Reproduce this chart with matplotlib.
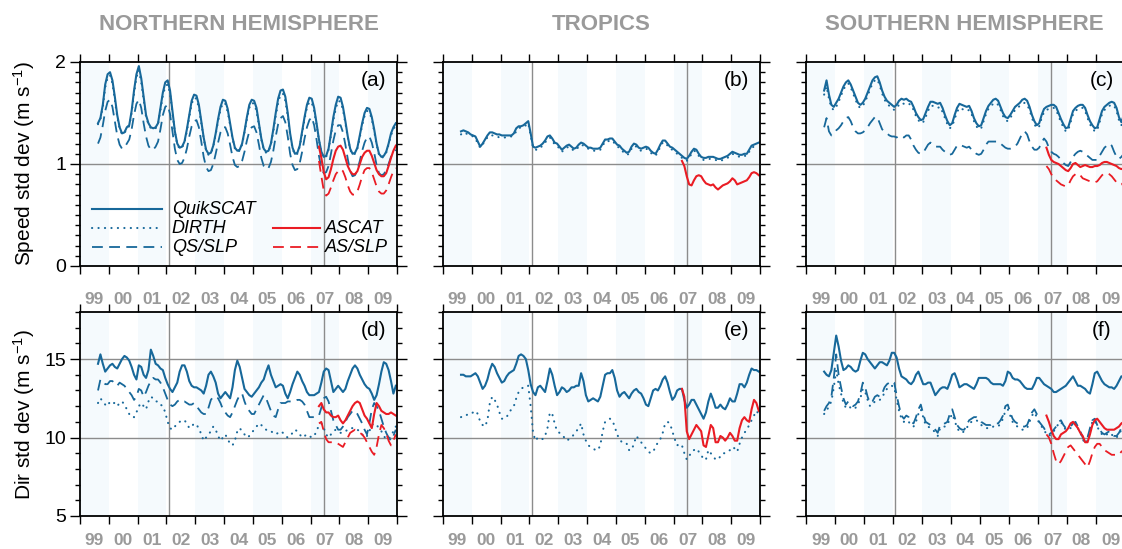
"""Wind speed / direction std dev time series, QuikSCAT vs ASCAT, 3 regions."""

import matplotlib

matplotlib.use("Agg")
import matplotlib.pyplot as plt
import numpy as np
from matplotlib.ticker import MultipleLocator

plt.rcParams["font.family"] = ["Liberation Sans", "DejaVu Sans"]
plt.rcParams["mathtext.fontset"] = "custom"
plt.rcParams["mathtext.rm"] = "Liberation Sans"
plt.rcParams["mathtext.it"] = "Liberation Sans:italic"
plt.rcParams["mathtext.default"] = "regular"

# ---------------------------------------------------------------- data
REGIONS = ["NORTHERN HEMISPHERE", "TROPICS", "SOUTHERN HEMISPHERE"]
PANEL_TAGS = ["(a)", "(b)", "(c)", "(d)", "(e)", "(f)"]
YEAR_LABELS = ["99", "00", "01", "02", "03", "04", "05", "06", "07", "08", "09"]
QS_START = (1999, 8)   # first monthly value Aug 1999, 125 months
AS_START = (2007, 4)   # first monthly value Apr 2007, 33 months
BREAKS = [2002.08, 2007.46]

# speed std dev, northern hemisphere
speed_nh_qs = [
    1.40, 1.45, 1.58, 1.78, 1.88,
    1.90, 1.82, 1.66, 1.48, 1.36, 1.30, 1.31, 1.36, 1.38, 1.52, 1.72, 1.88,
    1.96, 1.84, 1.66, 1.48, 1.40, 1.36, 1.35, 1.36, 1.40, 1.55, 1.70, 1.80,
    1.82, 1.72, 1.52, 1.32, 1.20, 1.16, 1.17, 1.22, 1.34, 1.48, 1.62, 1.68,
    1.67, 1.58, 1.42, 1.26, 1.14, 1.10, 1.11, 1.18, 1.30, 1.44, 1.56, 1.63,
    1.62, 1.54, 1.40, 1.26, 1.16, 1.13, 1.14, 1.20, 1.32, 1.46, 1.58, 1.63,
    1.62, 1.55, 1.40, 1.25, 1.15, 1.12, 1.13, 1.20, 1.34, 1.50, 1.64, 1.72,
    1.73, 1.66, 1.50, 1.30, 1.16, 1.10, 1.11, 1.18, 1.32, 1.46, 1.58, 1.65,
    1.64, 1.55, 1.40, 1.24, 1.12, 1.07, 1.08, 1.15, 1.30, 1.46, 1.58, 1.66,
    1.65, 1.56, 1.42, 1.27, 1.15, 1.10, 1.11, 1.16, 1.28, 1.40, 1.50, 1.55,
    1.54, 1.46, 1.34, 1.20, 1.10, 1.07, 1.08, 1.12, 1.20, 1.30, 1.36, 1.40,
]
speed_nh_dirth = [
    1.39, 1.44, 1.56, 1.75, 1.85,
    1.87, 1.79, 1.63, 1.46, 1.35, 1.29, 1.30, 1.35, 1.37, 1.50, 1.69, 1.85,
    1.92, 1.80, 1.63, 1.46, 1.39, 1.35, 1.34, 1.35, 1.39, 1.53, 1.67, 1.76,
    1.78, 1.69, 1.50, 1.31, 1.19, 1.15, 1.16, 1.21, 1.32, 1.46, 1.59, 1.65,
    1.64, 1.55, 1.40, 1.25, 1.13, 1.09, 1.10, 1.17, 1.29, 1.42, 1.53, 1.60,
    1.59, 1.51, 1.38, 1.25, 1.15, 1.12, 1.13, 1.19, 1.31, 1.44, 1.55, 1.60,
    1.59, 1.52, 1.38, 1.24, 1.14, 1.11, 1.12, 1.19, 1.32, 1.47, 1.60, 1.68,
    1.69, 1.62, 1.47, 1.28, 1.15, 1.09, 1.10, 1.17, 1.30, 1.44, 1.55, 1.61,
    1.60, 1.52, 1.38, 1.23, 1.11, 1.06, 1.07, 1.14, 1.28, 1.43, 1.54, 1.62,
    1.61, 1.53, 1.40, 1.26, 1.14, 1.09, 1.10, 1.15, 1.26, 1.38, 1.47, 1.52,
    1.51, 1.44, 1.32, 1.19, 1.09, 1.06, 1.07, 1.11, 1.19, 1.28, 1.34, 1.38,
]
speed_nh_qsslp = [
    1.20, 1.26, 1.38, 1.52, 1.61,
    1.63, 1.56, 1.42, 1.28, 1.19, 1.15, 1.16, 1.20, 1.24, 1.34, 1.48, 1.59,
    1.63, 1.55, 1.40, 1.27, 1.18, 1.14, 1.14, 1.17, 1.22, 1.34, 1.48, 1.56,
    1.58, 1.49, 1.32, 1.15, 1.04, 1.00, 1.01, 1.06, 1.15, 1.27, 1.37, 1.42,
    1.43, 1.36, 1.22, 1.07, 0.97, 0.93, 0.94, 1.00, 1.10, 1.21, 1.31, 1.36,
    1.36, 1.30, 1.19, 1.07, 0.99, 0.97, 0.98, 1.03, 1.12, 1.23, 1.32, 1.36,
    1.37, 1.31, 1.19, 1.06, 0.98, 0.95, 0.96, 1.02, 1.13, 1.27, 1.39, 1.45,
    1.47, 1.41, 1.27, 1.10, 0.99, 0.94, 0.95, 1.01, 1.12, 1.25, 1.36, 1.43,
    1.46, 1.38, 1.24, 1.08, 0.96, 0.91, 0.92, 0.98, 1.10, 1.23, 1.33, 1.38,
    1.38, 1.31, 1.19, 1.05, 0.93, 0.88, 0.89, 0.94, 1.03, 1.13, 1.21, 1.26,
    1.27, 1.21, 1.11, 0.99, 0.91, 0.89, 0.90, 0.94, 1.00, 1.07, 1.11, 1.14,
]
speed_nh_ascat = [
    1.17, 1.06, 0.92, 0.85, 0.87, 0.95, 1.05, 1.13, 1.17,
    1.18, 1.14, 1.06, 0.98, 0.93, 0.90, 0.90, 0.93, 1.00, 1.07, 1.11, 1.13,
    1.13, 1.08, 1.01, 0.94, 0.90, 0.88, 0.88, 0.91, 0.98, 1.06, 1.13, 1.18,
]
speed_nh_asslp = [
    1.03, 0.88, 0.74, 0.69, 0.71, 0.77, 0.84, 0.90, 0.93,
    0.95, 0.93, 0.87, 0.79, 0.73, 0.70, 0.70, 0.73, 0.80, 0.88, 0.94, 0.96,
    0.96, 0.92, 0.85, 0.78, 0.73, 0.71, 0.71, 0.74, 0.80, 0.87, 0.93, 0.96,
]

# speed std dev, tropics
speed_tr_qs = [
    1.32, 1.33, 1.32, 1.31, 1.29,
    1.28, 1.27, 1.22, 1.17, 1.20, 1.24, 1.28, 1.31, 1.31, 1.30, 1.29, 1.29,
    1.28, 1.28, 1.28, 1.28, 1.28, 1.30, 1.35, 1.37, 1.37, 1.38, 1.40, 1.42,
    1.30, 1.17, 1.16, 1.17, 1.18, 1.20, 1.23, 1.27, 1.28, 1.25, 1.21, 1.20,
    1.17, 1.14, 1.16, 1.18, 1.19, 1.17, 1.15, 1.16, 1.19, 1.21, 1.20, 1.18,
    1.16, 1.16, 1.15, 1.15, 1.15, 1.16, 1.20, 1.24, 1.24, 1.25, 1.25, 1.22,
    1.19, 1.18, 1.15, 1.13, 1.11, 1.12, 1.17, 1.20, 1.19, 1.16, 1.15, 1.16,
    1.17, 1.16, 1.13, 1.11, 1.10, 1.14, 1.19, 1.23, 1.23, 1.20, 1.17, 1.16,
    1.14, 1.12, 1.10, 1.08, 1.06, 1.05, 1.08, 1.12, 1.15, 1.14, 1.10, 1.07,
    1.06, 1.06, 1.07, 1.07, 1.07, 1.06, 1.05, 1.05, 1.06, 1.07, 1.08, 1.10,
    1.12, 1.11, 1.10, 1.09, 1.09, 1.10, 1.10, 1.14, 1.18, 1.19, 1.20, 1.21,
]
speed_tr_dirth = [
    1.29, 1.31, 1.30, 1.29, 1.28,
    1.27, 1.25, 1.20, 1.16, 1.19, 1.23, 1.26, 1.28, 1.28, 1.28, 1.27, 1.26,
    1.26, 1.26, 1.26, 1.27, 1.27, 1.28, 1.32, 1.35, 1.36, 1.36, 1.38, 1.40,
    1.28, 1.16, 1.14, 1.14, 1.16, 1.18, 1.21, 1.24, 1.26, 1.23, 1.19, 1.18,
    1.15, 1.12, 1.14, 1.16, 1.17, 1.15, 1.13, 1.14, 1.17, 1.19, 1.18, 1.16,
    1.15, 1.14, 1.13, 1.13, 1.13, 1.14, 1.18, 1.22, 1.22, 1.23, 1.23, 1.20,
    1.17, 1.16, 1.13, 1.11, 1.09, 1.10, 1.15, 1.18, 1.17, 1.14, 1.13, 1.14,
    1.15, 1.14, 1.11, 1.09, 1.08, 1.12, 1.17, 1.21, 1.21, 1.18, 1.15, 1.14,
    1.12, 1.10, 1.08, 1.06, 1.04, 1.03, 1.06, 1.10, 1.13, 1.12, 1.08, 1.05,
    1.04, 1.04, 1.05, 1.05, 1.05, 1.04, 1.03, 1.03, 1.04, 1.05, 1.06, 1.08,
    1.10, 1.09, 1.08, 1.07, 1.07, 1.08, 1.08, 1.12, 1.16, 1.17, 1.18, 1.19,
]
speed_tr_ascat = [
    1.03, 0.98, 0.88, 0.80, 0.79, 0.84, 0.88, 0.89, 0.88,
    0.84, 0.81, 0.80, 0.79, 0.80, 0.77, 0.75, 0.77, 0.79, 0.80, 0.81, 0.83,
    0.86, 0.84, 0.80, 0.81, 0.82, 0.83, 0.84, 0.87, 0.91, 0.92, 0.91, 0.89,
]

# speed std dev, southern hemisphere
speed_sh_qs = [
    1.72, 1.82, 1.68, 1.58, 1.56,
    1.60, 1.64, 1.70, 1.76, 1.80, 1.82, 1.78, 1.72, 1.66, 1.60, 1.58, 1.60,
    1.64, 1.70, 1.76, 1.82, 1.85, 1.86, 1.80, 1.72, 1.66, 1.62, 1.60, 1.58,
    1.56, 1.58, 1.62, 1.64, 1.63, 1.64, 1.62, 1.61, 1.56, 1.50, 1.46, 1.43,
    1.44, 1.50, 1.56, 1.61, 1.61, 1.60, 1.59, 1.60, 1.55, 1.48, 1.42, 1.38,
    1.40, 1.48, 1.55, 1.59, 1.58, 1.57, 1.56, 1.57, 1.52, 1.45, 1.40, 1.37,
    1.38, 1.45, 1.52, 1.57, 1.60, 1.63, 1.64, 1.62, 1.56, 1.50, 1.46, 1.45,
    1.48, 1.52, 1.56, 1.58, 1.60, 1.63, 1.64, 1.62, 1.56, 1.48, 1.42, 1.38,
    1.40, 1.48, 1.54, 1.56, 1.57, 1.58, 1.58, 1.56, 1.50, 1.44, 1.39, 1.35,
    1.36, 1.44, 1.52, 1.55, 1.57, 1.58, 1.58, 1.55, 1.48, 1.42, 1.38, 1.35,
    1.36, 1.44, 1.52, 1.56, 1.58, 1.60, 1.61, 1.60, 1.55, 1.46, 1.41, 1.48,
]
speed_sh_dirth = [
    1.68, 1.76, 1.64, 1.55, 1.53,
    1.56, 1.61, 1.67, 1.73, 1.77, 1.79, 1.75, 1.69, 1.63, 1.57, 1.55, 1.57,
    1.61, 1.67, 1.73, 1.79, 1.82, 1.83, 1.77, 1.69, 1.63, 1.59, 1.57, 1.55,
    1.53, 1.55, 1.58, 1.60, 1.59, 1.60, 1.59, 1.58, 1.53, 1.47, 1.43, 1.40,
    1.41, 1.46, 1.52, 1.57, 1.57, 1.56, 1.55, 1.56, 1.51, 1.45, 1.39, 1.35,
    1.37, 1.44, 1.51, 1.55, 1.54, 1.53, 1.52, 1.53, 1.49, 1.42, 1.37, 1.34,
    1.35, 1.42, 1.49, 1.54, 1.57, 1.59, 1.60, 1.58, 1.53, 1.47, 1.43, 1.42,
    1.45, 1.49, 1.53, 1.55, 1.57, 1.59, 1.60, 1.58, 1.53, 1.45, 1.39, 1.35,
    1.37, 1.45, 1.51, 1.53, 1.54, 1.55, 1.55, 1.53, 1.47, 1.41, 1.36, 1.32,
    1.33, 1.41, 1.49, 1.52, 1.54, 1.55, 1.55, 1.52, 1.45, 1.39, 1.35, 1.32,
    1.33, 1.41, 1.49, 1.53, 1.55, 1.57, 1.58, 1.57, 1.52, 1.43, 1.38, 1.45,
]
speed_sh_qsslp = [
    1.36, 1.45, 1.32, 1.28, 1.30,
    1.33, 1.35, 1.38, 1.42, 1.45, 1.46, 1.42, 1.36, 1.32, 1.30, 1.30, 1.31,
    1.33, 1.36, 1.40, 1.43, 1.46, 1.46, 1.40, 1.34, 1.32, 1.30, 1.28, 1.27,
    1.27, 1.26, 1.28, 1.27, 1.26, 1.28, 1.28, 1.24, 1.18, 1.14, 1.11, 1.10,
    1.11, 1.15, 1.19, 1.21, 1.19, 1.17, 1.17, 1.17, 1.14, 1.12, 1.10, 1.09,
    1.10, 1.14, 1.18, 1.19, 1.18, 1.17, 1.16, 1.17, 1.14, 1.12, 1.10, 1.09,
    1.10, 1.14, 1.19, 1.22, 1.22, 1.22, 1.22, 1.22, 1.20, 1.18, 1.16, 1.15,
    1.15, 1.16, 1.17, 1.20, 1.25, 1.30, 1.32, 1.29, 1.22, 1.17, 1.14, 1.14,
    1.16, 1.21, 1.25, 1.22, 1.16, 1.12, 1.10, 1.09, 1.07, 1.04, 1.01, 0.99,
    0.98, 1.02, 1.07, 1.10, 1.12, 1.13, 1.12, 1.10, 1.08, 1.06, 1.04, 1.04,
    1.04, 1.08, 1.12, 1.16, 1.18, 1.20, 1.18, 1.12, 1.07, 1.05, 1.07, 1.10,
]
speed_sh_ascat = [
    1.16, 1.09, 1.04, 1.02, 1.01, 1.00, 0.98, 0.96, 0.94,
    0.93, 0.96, 1.00, 1.01, 0.99, 0.97, 0.98, 0.99, 0.98, 0.97, 0.97, 0.98,
    0.98, 0.99, 1.01, 1.02, 1.02, 1.01, 1.00, 0.99, 0.98, 0.96, 0.95, 0.96,
]
speed_sh_asslp = [
    0.98, 0.95, 0.90, 0.86, 0.84, 0.82, 0.80, 0.79, 0.78,
    0.79, 0.84, 0.88, 0.90, 0.91, 0.89, 0.86, 0.85, 0.84, 0.83, 0.82, 0.82,
    0.83, 0.86, 0.89, 0.91, 0.91, 0.90, 0.88, 0.85, 0.82, 0.80, 0.80, 0.82,
]

# direction std dev, northern hemisphere
dir_nh_qs = [
    14.7, 15.3, 14.7, 14.2, 14.4,
    14.6, 14.7, 14.5, 14.4, 14.7, 15.0, 15.2, 15.1, 14.9, 14.5, 14.0, 13.7,
    14.6, 14.5, 14.0, 13.8, 14.3, 15.6, 15.2, 14.7, 14.6, 14.4, 14.3, 13.8,
    13.4, 13.1, 12.9, 13.2, 13.5, 14.2, 14.6, 14.6, 14.2, 13.6, 13.3, 13.2,
    13.2, 13.1, 13.0, 12.8, 13.3, 14.0, 14.2, 13.9, 13.5, 12.8, 12.5, 12.7,
    12.9, 12.7, 12.5, 13.2, 14.3, 14.9, 14.5, 13.8, 13.1, 12.9, 12.7, 12.6,
    12.8, 13.0, 13.2, 13.5, 13.7, 14.2, 14.6, 14.0, 13.6, 13.2, 13.3, 13.4,
    13.3, 12.8, 12.5, 12.9, 13.4, 13.8, 14.2, 14.0, 13.6, 13.3, 12.9, 12.7,
    12.7, 12.7, 12.8, 12.9, 13.5, 14.2, 14.4, 14.3, 13.6, 12.9, 13.1, 13.3,
    13.1, 12.9, 13.1, 13.6, 14.0, 14.4, 14.6, 14.4, 14.0, 13.7, 13.4, 13.2,
    13.1, 12.8, 12.4, 12.7, 13.4, 14.2, 14.8, 14.7, 14.3, 13.6, 12.8, 13.3,
]
dir_nh_dirth = [
    12.2, 12.5, 12.3, 12.1, 12.0,
    12.3, 12.2, 12.2, 12.0, 12.2, 12.3, 12.1, 11.8, 11.5, 11.3, 11.3, 11.6,
    12.0, 12.2, 12.0, 11.8, 12.3, 12.6, 12.5, 12.3, 12.3, 12.1, 12.0, 11.6,
    11.0, 10.6, 10.5, 10.7, 10.9, 11.0, 11.1, 11.1, 10.9, 10.6, 10.7, 10.9,
    10.8, 10.6, 10.2, 9.8, 10.0, 10.2, 10.4, 10.7, 10.5, 10.1, 9.8, 10.0,
    10.2, 9.9, 9.6, 9.5, 9.8, 10.4, 10.6, 10.4, 10.2, 10.0, 10.1, 10.3,
    10.5, 10.7, 10.9, 10.8, 10.6, 10.5, 10.4, 10.4, 10.3, 10.2, 10.3, 10.4,
    10.3, 10.1, 10.0, 10.1, 10.3, 10.5, 10.4, 10.2, 10.0, 10.1, 10.2, 10.1,
    10.0, 10.1, 10.4, 10.8, 10.9, 10.6, 10.2, 10.0, 10.2, 10.4, 10.5, 10.4,
    10.3, 10.3, 10.4, 10.5, 10.6, 10.6, 10.5, 10.5, 10.4, 10.2, 10.0, 10.1,
    10.4, 10.8, 10.9, 10.8, 10.6, 10.4, 10.1, 9.9, 9.9, 10.1, 10.4, 10.7,
]
dir_nh_qsslp = [
    13.0, 13.7, 13.6, 13.4, 13.4,
    13.6, 13.6, 13.4, 13.3, 13.5, 13.4, 13.3, 13.1, 12.9, 12.7, 12.4, 12.6,
    13.1, 13.0, 12.6, 12.9, 13.3, 13.6, 13.8, 13.7, 13.7, 13.5, 13.2, 12.8,
    12.4, 12.1, 12.0, 12.1, 12.3, 12.4, 12.3, 12.3, 12.2, 12.1, 12.1, 12.2,
    12.0, 11.8, 11.6, 11.5, 11.5, 11.9, 12.4, 12.6, 12.6, 12.5, 12.2, 11.8,
    11.6, 11.4, 11.3, 11.6, 12.0, 12.4, 12.7, 12.8, 12.3, 11.9, 11.7, 11.5,
    11.5, 11.8, 12.1, 12.4, 12.7, 12.5, 12.1, 11.7, 11.4, 11.3, 11.8, 12.2,
    12.2, 12.2, 12.3, 12.3, 12.3, 12.3, 12.4, 12.4, 12.3, 12.1, 11.7, 11.3,
    11.3, 11.3, 11.3, 11.4, 11.9, 12.5, 12.6, 12.3, 11.7, 11.1, 10.8, 10.5,
    10.5, 10.7, 11.0, 11.3, 11.5, 11.7, 11.7, 11.5, 11.2, 10.9, 10.5, 10.2,
    10.9, 11.8, 12.2, 12.0, 11.7, 11.2, 10.7, 10.3, 10.0, 9.8, 10.1, 10.5,
]
dir_nh_ascat = [
    12.0, 12.2, 11.8, 11.6, 11.6, 11.4, 11.3, 11.3, 11.4,
    11.1, 10.9, 11.1, 11.4, 11.7, 12.0, 12.2, 12.3, 12.2, 11.8, 11.4, 11.2,
    10.9, 10.6, 11.5, 12.2, 12.0, 11.7, 11.6, 11.5, 11.5, 11.6, 11.5, 11.4,
]
dir_nh_asslp = [
    10.9, 11.0, 10.4, 9.9, 9.7, 9.7, 9.7, 9.7, 9.6,
    9.5, 9.4, 9.7, 10.0, 10.3, 10.4, 10.5, 10.4, 10.3, 10.2, 10.0, 9.7,
    9.4, 9.1, 8.9, 9.4, 10.2, 10.8, 10.6, 10.3, 9.8, 9.5, 9.8, 10.2,
]

# direction std dev, tropics
dir_tr_qs = [
    14.0, 14.0, 13.9, 13.9, 13.9,
    14.0, 14.1, 13.9, 13.5, 13.1, 13.3, 13.7, 14.3, 14.7, 14.5, 14.1, 13.8,
    13.5, 13.6, 13.9, 14.1, 14.2, 14.3, 14.7, 15.2, 15.3, 15.2, 15.0, 14.3,
    13.4, 12.9, 12.7, 13.2, 13.3, 13.1, 12.9, 13.6, 14.4, 14.0, 13.3, 12.7,
    12.9, 13.2, 13.1, 12.9, 13.0, 13.2, 13.2, 13.3, 13.3, 14.1, 13.6, 12.7,
    12.3, 12.4, 12.5, 12.4, 12.3, 12.6, 13.3, 14.0, 14.1, 14.1, 14.3, 13.8,
    13.0, 12.6, 12.8, 12.9, 12.7, 12.5, 12.8, 13.0, 13.1, 12.9, 12.8, 12.5,
    12.1, 12.0, 12.5, 13.0, 13.1, 13.0, 13.3, 13.7, 13.9, 13.5, 12.9, 12.4,
    12.6, 13.0, 13.1, 13.1, 12.4, 11.9, 12.1, 12.4, 12.4, 12.1, 11.8, 11.5,
    11.2, 11.6, 12.3, 12.8, 12.4, 11.9, 11.9, 12.1, 11.9, 11.8, 12.1, 12.5,
    12.3, 12.3, 12.8, 13.4, 13.4, 13.2, 13.5, 14.0, 14.4, 14.3, 14.3, 14.2,
]
dir_tr_dirth = [
    11.3, 11.4, 11.4, 11.5, 11.5,
    11.6, 11.7, 11.5, 11.0, 10.8, 10.7, 11.1, 12.2, 12.6, 12.4, 12.1, 11.6,
    11.2, 11.2, 11.3, 11.6, 11.8, 12.0, 12.5, 12.9, 13.1, 13.2, 13.3, 13.3,
    12.0, 10.3, 9.8, 10.0, 10.0, 9.9, 10.1, 10.6, 11.6, 11.5, 10.9, 10.4,
    10.3, 10.2, 10.0, 9.8, 9.9, 10.0, 10.2, 10.4, 10.6, 10.9, 10.2, 9.8,
    9.5, 9.4, 9.3, 9.2, 9.2, 9.5, 10.4, 11.0, 11.1, 11.2, 11.1, 10.7,
    10.2, 9.9, 9.7, 9.6, 9.6, 9.2, 9.2, 9.6, 10.1, 9.9, 9.7, 9.5,
    9.3, 9.1, 9.0, 9.1, 9.4, 9.7, 9.9, 10.3, 10.9, 11.0, 10.9, 10.4,
    9.9, 9.5, 9.6, 9.5, 9.0, 8.6, 8.8, 9.1, 9.2, 9.3, 9.1, 8.9,
    8.6, 8.6, 9.2, 9.0, 8.8, 8.6, 8.6, 8.8, 9.0, 9.0, 9.1, 9.2,
    9.4, 9.3, 9.1, 9.6, 10.0, 10.3, 10.5, 10.8, 11.1, 11.4, 11.7, 11.5,
]
dir_tr_ascat = [
    13.1, 12.6, 10.4, 9.9, 10.2, 10.5, 10.8, 10.6, 10.4,
    9.5, 9.4, 10.1, 10.8, 10.6, 9.7, 9.7, 10.1, 10.0, 9.8, 10.0, 10.3,
    10.1, 9.8, 9.8, 10.6, 11.1, 11.3, 11.1, 11.0, 11.8, 12.4, 12.2, 11.7,
]

# direction std dev, southern hemisphere
dir_sh_qs = [
    14.2, 14.0, 13.9, 14.3, 15.4,
    16.5, 15.8, 14.9, 14.3, 14.4, 14.6, 14.5, 14.3, 14.2, 14.3, 14.9, 15.4,
    15.3, 15.0, 14.8, 14.6, 14.4, 14.6, 14.8, 14.8, 14.7, 14.6, 14.9, 15.4,
    15.4, 15.1, 14.4, 13.9, 13.8, 13.7, 13.5, 13.4, 13.6, 14.0, 14.2, 13.8,
    13.4, 13.4, 13.5, 13.5, 13.1, 12.7, 12.9, 13.1, 13.2, 13.2, 13.1, 13.5,
    14.0, 14.1, 13.7, 13.2, 13.3, 13.4, 13.4, 13.3, 13.2, 13.1, 13.4, 13.8,
    13.8, 13.8, 13.8, 13.7, 13.5, 13.4, 13.4, 13.4, 13.4, 13.3, 13.6, 14.2,
    14.1, 13.8, 13.7, 13.7, 13.6, 13.4, 13.2, 13.1, 13.1, 13.1, 13.4, 13.8,
    13.8, 13.6, 13.4, 13.3, 13.2, 13.1, 12.9, 12.9, 13.0, 13.1, 13.2, 13.3,
    13.5, 13.7, 13.9, 13.6, 13.3, 13.3, 13.2, 13.1, 12.9, 12.8, 13.4, 14.1,
    14.2, 13.9, 13.6, 13.4, 13.3, 13.2, 13.2, 13.1, 13.3, 13.6, 13.9, 13.9,
]
dir_sh_dirth = [
    11.5, 11.7, 12.0, 12.3, 13.2,
    14.3, 13.4, 12.8, 12.2, 11.9, 12.0, 11.9, 11.8, 11.9, 12.1, 12.5, 13.1,
    12.9, 12.4, 12.0, 12.1, 12.3, 12.4, 12.4, 12.5, 12.9, 13.1, 13.2, 13.3,
    13.2, 12.4, 11.7, 11.2, 11.0, 11.1, 11.0, 10.8, 10.7, 11.0, 11.5, 11.8,
    11.3, 10.8, 10.7, 10.6, 10.5, 10.3, 10.1, 10.6, 10.7, 10.7, 10.8, 11.2,
    11.5, 11.1, 10.6, 10.4, 10.3, 10.4, 10.6, 10.9, 11.0, 11.1, 11.1, 11.0,
    10.8, 10.7, 10.6, 10.6, 10.6, 10.7, 10.7, 10.7, 10.9, 11.2, 11.7, 11.8,
    11.4, 11.0, 10.8, 10.7, 10.6, 10.5, 10.5, 10.6, 11.0, 11.4, 11.6, 11.3,
    10.9, 10.7, 10.5, 10.2, 10.1, 10.2, 10.4, 10.6, 10.9, 11.0, 10.7, 10.5,
    10.6, 10.6, 10.8, 10.9, 10.6, 10.3, 9.9, 9.6, 9.9, 10.5, 11.0, 11.1,
    10.7, 10.4, 10.2, 10.1, 10.2, 10.3, 10.2, 10.0, 10.0, 10.2, 10.5, 10.7,
]
dir_sh_qsslp = [
    11.7, 12.0, 12.2, 12.6, 13.8,
    15.3, 14.0, 13.2, 12.5, 12.1, 12.3, 12.1, 12.0, 12.1, 12.3, 12.8, 13.5,
    13.2, 12.6, 12.2, 12.3, 12.6, 12.7, 12.6, 12.8, 13.2, 13.4, 13.5, 13.6,
    13.5, 12.7, 12.0, 11.4, 11.2, 11.4, 11.3, 11.0, 10.9, 11.3, 11.8, 12.1,
    11.5, 11.0, 10.9, 10.8, 10.7, 10.5, 10.3, 10.8, 10.9, 10.9, 11.0, 11.5,
    11.8, 11.3, 10.8, 10.6, 10.5, 10.5, 10.8, 11.1, 11.2, 11.3, 11.3, 11.2,
    11.0, 10.9, 10.8, 10.8, 10.8, 10.9, 10.9, 10.9, 11.1, 11.4, 12.0, 12.1,
    11.6, 11.2, 11.0, 10.9, 10.8, 10.7, 10.7, 10.8, 11.2, 11.6, 11.8, 11.5,
    11.0, 10.8, 10.6, 10.3, 10.2, 10.3, 10.5, 10.7, 11.0, 11.1, 10.8, 10.6,
    10.7, 10.7, 10.9, 11.0, 10.7, 10.4, 10.0, 9.7, 10.0, 10.6, 11.1, 11.2,
    10.8, 10.5, 10.3, 10.2, 10.3, 10.4, 10.3, 10.1, 10.1, 10.3, 10.6, 10.8,
]
dir_sh_ascat = [
    11.4, 11.0, 10.5, 10.1, 9.9, 9.9, 10.2, 10.3, 10.4,
    10.6, 10.9, 11.0, 10.8, 10.6, 10.3, 10.1, 9.7, 9.7, 10.2, 10.8, 11.1,
    11.2, 11.0, 10.8, 10.6, 10.5, 10.5, 10.5, 10.5, 10.6, 10.7, 10.9, 11.0,
]
dir_sh_asslp = [
    10.2, 10.0, 9.6, 9.0, 8.5, 8.3, 8.5, 8.8, 9.1,
    9.4, 9.5, 9.3, 9.1, 8.9, 8.7, 8.5, 8.3, 8.1, 8.5, 9.0, 9.4,
    9.6, 9.6, 9.4, 9.2, 9.1, 9.0, 8.9, 8.9, 8.9, 8.9, 9.1, 9.2,
]

# ---------------------------------------------------------------- style
BLUE = "#17689a"
RED = "#ea1c24"
SHADE = "#f5fafd"
GRID = "#8c8c8c"
LABEL_GREY = "#9a9a9a"

SOLID = dict(lw=1.5, ls="-", solid_joinstyle="round")
DASHED = dict(lw=1.3, dashes=(6, 3.5))
DOTTED = dict(lw=1.5, dashes=(0.1, 3.0), dash_capstyle="round")

W, H = 1122, 549
COL_LEFT = [80, 443, 806]
COL_WIDTH = [317, 317, 319]
ROW_TOP = [62, 312]
ROW_HEIGHT = 204


def month_axis(start, n):
    year, month = start
    return year + (month - 1 + np.arange(n) + 0.5) / 12.0


def style_axes(ax, row, col):
    ax.set_xlim(1999, 2010)
    for yr in range(1999, 2010, 2):
        ax.axvspan(yr, yr + 1, color=SHADE, lw=0, zorder=0)
    for x in BREAKS:
        ax.axvline(x, color=GRID, lw=1.0, zorder=1)

    ax.set_xticks(range(1999, 2011))
    ax.set_xticks(np.arange(1999.5, 2010), labels=YEAR_LABELS, minor=True,
                  fontsize=12.5, fontweight="bold", color=LABEL_GREY)
    ax.tick_params(axis="x", which="major", direction="out", length=5.5, width=1.0,
                   top=True, bottom=True, labelbottom=False)
    ax.tick_params(axis="x", which="minor", length=0, top=False,
                   pad=19 if row == 0 else 12)

    if row == 0:
        ax.set_ylim(0, 2)
        ax.set_yticks([0, 1, 2])
        ax.yaxis.set_minor_locator(MultipleLocator(0.1))
        ax.axhline(1, color=GRID, lw=1.0, zorder=1)
    else:
        ax.set_ylim(5, 18)
        ax.set_yticks([5, 10, 15])
        ax.yaxis.set_minor_locator(MultipleLocator(1))
        for v in (10, 15):
            ax.axhline(v, color=GRID, lw=1.0, zorder=1)
    ax.tick_params(axis="y", which="both", direction="out", left=True, right=True,
                   width=1.0, labelsize=14, pad=3, labelleft=(col == 0))
    ax.tick_params(axis="y", which="major", length=7)
    ax.tick_params(axis="y", which="minor", length=3.5)

    for sp in ax.spines.values():
        sp.set_linewidth(1.3)
        sp.set_zorder(5)


def draw_legend(ax):
    rows = [0.278, 0.185, 0.092]
    left = [("QuikSCAT", SOLID), ("DIRTH", DOTTED), ("QS/SLP", DASHED)]
    for y, (name, st) in zip(rows, left):
        ax.plot([0.038, 0.259], [y, y], transform=ax.transAxes, color=BLUE, **st)
        ax.text(0.29, y, name, transform=ax.transAxes, ha="left", va="center",
                fontsize=13, style="italic")
    right = [("ASCAT", SOLID), ("AS/SLP", DASHED)]
    for y, (name, st) in zip(rows[1:], right):
        ax.plot([0.609, 0.757], [y, y], transform=ax.transAxes, color=RED, **st)
        ax.text(0.773, y, name, transform=ax.transAxes, ha="left", va="center",
                fontsize=13, style="italic")


t_qs = month_axis(QS_START, len(speed_nh_qs))
t_as = month_axis(AS_START, len(speed_nh_ascat))

panels = [
    (speed_nh_qs, speed_nh_dirth, speed_nh_qsslp, speed_nh_ascat, speed_nh_asslp),
    (speed_tr_qs, speed_tr_dirth, None, speed_tr_ascat, None),
    (speed_sh_qs, speed_sh_dirth, speed_sh_qsslp, speed_sh_ascat, speed_sh_asslp),
    (dir_nh_qs, dir_nh_dirth, dir_nh_qsslp, dir_nh_ascat, dir_nh_asslp),
    (dir_tr_qs, dir_tr_dirth, None, dir_tr_ascat, None),
    (dir_sh_qs, dir_sh_dirth, dir_sh_qsslp, dir_sh_ascat, dir_sh_asslp),
]

fig = plt.figure(figsize=(W / 100, H / 100), dpi=100)

for i, (qs, dirth, qsslp, ascat, asslp) in enumerate(panels):
    row, col = divmod(i, 3)
    rect = [COL_LEFT[col] / W, 1 - (ROW_TOP[row] + ROW_HEIGHT) / H,
            COL_WIDTH[col] / W, ROW_HEIGHT / H]
    ax = fig.add_axes(rect)
    style_axes(ax, row, col)

    if qsslp is not None:
        ax.plot(t_qs, qsslp, color=BLUE, zorder=2, **DASHED)
    ax.plot(t_qs, dirth, color=BLUE, zorder=2, **DOTTED)
    ax.plot(t_qs, qs, color=BLUE, zorder=3, **SOLID)
    if asslp is not None:
        ax.plot(t_as, asslp, color=RED, zorder=4, **DASHED)
    ax.plot(t_as, ascat, color=RED, zorder=4, **SOLID)

    ax.text(0.927, 0.91, PANEL_TAGS[i], transform=ax.transAxes,
            ha="center", va="center", fontsize=15)

    if col == 0:
        label = "Speed std dev (m s$^{-1}$)" if row == 0 else "Dir std dev (m s$^{-1}$)"
        ax.set_ylabel(label, fontsize=15)
        ax.yaxis.set_label_coords(-0.136, 0.5)
    if i == 0:
        draw_legend(ax)

for col, name in enumerate(REGIONS):
    cx = (COL_LEFT[col] + 317 / 2) / W
    fig.text(cx, 1 - 24 / H, name, ha="center", va="center",
             fontsize=16, fontweight="bold", color=LABEL_GREY)

fig.savefig("out.png", dpi=100)
plt.close(fig)
